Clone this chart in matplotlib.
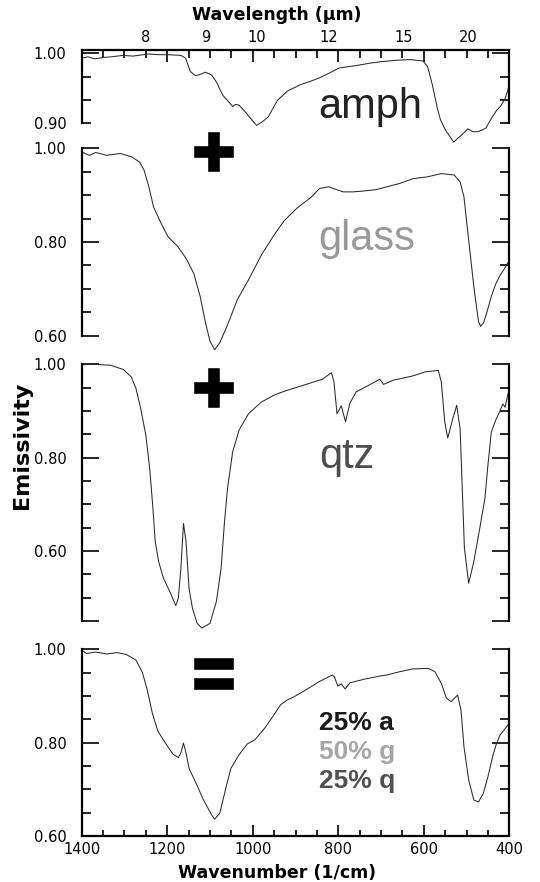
import matplotlib
matplotlib.use("Agg")
import matplotlib.pyplot as plt
from matplotlib.ticker import MultipleLocator, FixedLocator
import matplotlib.patheffects as pe

# ---------------- data ----------------
amph_wn = [1400, 1385, 1370, 1350, 1330, 1304, 1280, 1244, 1220, 1198, 1168, 1157, 1146, 1134,
           1122, 1111, 1096, 1084, 1070, 1058, 1047, 1040, 1032, 1017, 1005, 991, 978, 964, 942,
           919, 889, 865, 844, 820, 798, 775, 753, 725, 700, 665, 632, 602, 591, 580, 568, 561,
           549, 540, 530, 520, 512, 497, 485, 474, 465, 455, 440, 430, 420, 410, 402]
amph_em = [0.993, 0.995, 0.992, 0.994, 0.995, 0.997, 0.996, 0.999, 0.998, 0.998, 0.997, 0.993,
           0.974, 0.968, 0.970, 0.973, 0.969, 0.958, 0.940, 0.932, 0.924, 0.927, 0.926, 0.916,
           0.907, 0.897, 0.902, 0.909, 0.933, 0.946, 0.955, 0.960, 0.965, 0.972, 0.979, 0.981,
           0.983, 0.986, 0.988, 0.990, 0.991, 0.989, 0.981, 0.955, 0.921, 0.905, 0.890, 0.882,
           0.873, 0.879, 0.883, 0.892, 0.888, 0.888, 0.890, 0.893, 0.909, 0.918, 0.925, 0.935,
           0.950]

glass_wn = [1400, 1382, 1367, 1341, 1310, 1284, 1265, 1254, 1243, 1232, 1216, 1198, 1175, 1156,
            1138, 1123, 1111, 1100, 1089, 1077, 1059, 1036, 1010, 980, 950, 927, 897, 863, 844,
            822, 805, 788, 765, 739, 710, 686, 656, 626, 592, 559, 529, 515, 506, 495, 483, 472,
            467, 460, 453, 442, 432, 422, 410, 402]
glass_em = [0.992, 0.985, 0.991, 0.985, 0.989, 0.982, 0.971, 0.953, 0.918, 0.875, 0.843, 0.811,
            0.790, 0.765, 0.733, 0.684, 0.630, 0.588, 0.570, 0.585, 0.623, 0.677, 0.719, 0.772,
            0.815, 0.845, 0.872, 0.896, 0.914, 0.918, 0.912, 0.907, 0.907, 0.909, 0.912, 0.918,
            0.925, 0.935, 0.939, 0.946, 0.943, 0.928, 0.896, 0.804, 0.705, 0.630, 0.620, 0.628,
            0.648, 0.684, 0.710, 0.728, 0.745, 0.758]

qtz_wn = [1400, 1371, 1333, 1303, 1284, 1273, 1262, 1250, 1241, 1234, 1228, 1220, 1209, 1194,
          1180, 1174, 1168, 1162, 1156, 1149, 1141, 1130, 1119, 1100, 1085, 1074, 1066, 1059,
          1047, 1032, 1010, 980, 950, 927, 882, 837, 816, 810, 803, 793, 783, 773, 758, 731,
          703, 694, 671, 626, 596, 566, 559, 551, 544, 532, 523, 515, 510, 505, 495, 483, 469,
          457, 450, 442, 432, 422, 415, 410, 403]
qtz_em = [0.999, 1.000, 0.998, 0.989, 0.973, 0.948, 0.905, 0.848, 0.777, 0.698, 0.620, 0.577,
          0.542, 0.513, 0.483, 0.499, 0.563, 0.659, 0.620, 0.520, 0.477, 0.445, 0.435, 0.445,
          0.492, 0.563, 0.663, 0.734, 0.812, 0.859, 0.894, 0.919, 0.934, 0.942, 0.955, 0.968,
          0.982, 0.962, 0.894, 0.911, 0.877, 0.916, 0.941, 0.954, 0.968, 0.957, 0.966, 0.975,
          0.984, 0.987, 0.962, 0.877, 0.842, 0.884, 0.912, 0.862, 0.734, 0.606, 0.531, 0.577,
          0.649, 0.713, 0.784, 0.855, 0.880, 0.900, 0.915, 0.908, 0.937]

mix_wn = [1400, 1389, 1367, 1341, 1318, 1296, 1273, 1258, 1247, 1235, 1222, 1205, 1186, 1174,
          1168, 1162, 1156, 1149, 1134, 1115, 1096, 1089, 1077, 1062, 1051, 1032, 1013, 995,
          972, 953, 935, 920, 904, 874, 844, 814, 809, 801, 793, 784, 773, 739, 701, 686, 656,
          626, 589, 574, 559, 547, 536, 521, 513, 506, 495, 483, 472, 461, 450, 438, 431, 422,
          403]
mix_em = [0.998, 0.991, 0.994, 0.990, 0.993, 0.989, 0.977, 0.950, 0.914, 0.864, 0.825, 0.800,
          0.775, 0.768, 0.778, 0.799, 0.778, 0.745, 0.716, 0.677, 0.645, 0.636, 0.649, 0.706,
          0.745, 0.774, 0.797, 0.806, 0.831, 0.856, 0.881, 0.891, 0.898, 0.914, 0.931, 0.945,
          0.941, 0.921, 0.926, 0.915, 0.928, 0.936, 0.943, 0.945, 0.952, 0.958, 0.959, 0.952,
          0.927, 0.895, 0.888, 0.902, 0.870, 0.791, 0.720, 0.677, 0.673, 0.691, 0.727, 0.774,
          0.795, 0.816, 0.838]

panel_names = ["amph", "glass", "qtz"]
panel_colors = ["#222222", "#999999", "#4d4d4d"]
mix_lines = ["25% a", "50% g", "25% q"]
mix_colors = ["#1a1a1a", "#a6a6a6", "#505050"]

bottom_ticks = [1400, 1200, 1000, 800, 600, 400]
top_labels = ["8", "9", "10", "12", "15", "20"]
top_label_wn = [1250, 1110, 991, 823, 648, 496]

# ---------------- layout ----------------
FW, FH = 540, 882
fig = plt.figure(figsize=(FW / 100, FH / 100), dpi=100)
X0, X1 = 81.7, 509.3


def px_axes(top, bot):
    return fig.add_axes([X0 / FW, 1 - bot / FH, (X1 - X0) / FW, (bot - top) / FH])


LINE = dict(color="#2a2a2a", lw=0.75, clip_on=False)


def style_y(ax, major, labels, minor, minor_labels=None):
    ax.set_xlim(1400, 400)
    ax.set_yticks(major, labels)
    ax.yaxis.set_minor_locator(FixedLocator(minor))
    if minor_labels is not None:
        ax.set_yticks(minor, minor_labels, minor=True)
    ax.tick_params(axis="y", which="both", direction="in", left=True, right=True,
                   width=1.2, pad=11, labelsize=10.5)
    ax.tick_params(axis="y", which="major", length=12.5)
    ax.tick_params(axis="y", which="minor", length=6.5)
    for lab in ax.get_yticklabels(which="both"):
        lab.set_family("DejaVu Sans")
    for s in ("left", "right", "top", "bottom"):
        ax.spines[s].set_linewidth(1.6)


# Panel 1: amph
ax1 = px_axes(50, 123.3)
ax1.plot(amph_wn, amph_em, **LINE)
ax1.set_ylim(0.90, 1.0047)
axt = ax1.twiny()
axt.set_xlim(1400, 400)
axt.set_xticks(top_label_wn, top_labels)
axt.tick_params(axis="x", length=0, pad=3.5, labelsize=10.5)
for s in axt.spines.values():
    s.set_visible(False)
style_y(ax1, [1.00], ["1.00"], [0.90, 0.90 + 0.1 / 3, 0.90 + 0.2 / 3], ["0.90", "", ""])
ax1.spines["bottom"].set_visible(False)
ax1.xaxis.set_ticks_position("top")
ax1.xaxis.set_major_locator(MultipleLocator(200))
ax1.xaxis.set_minor_locator(MultipleLocator(50))
ax1.tick_params(axis="x", which="both", direction="in", top=True, bottom=False,
                labeltop=False, labelbottom=False, width=1.2)
ax1.tick_params(axis="x", which="major", length=8.6)
ax1.tick_params(axis="x", which="minor", length=5.8)

# Panel 2: glass
ax2 = px_axes(148.3, 335.7)
ax2.plot(glass_wn, glass_em, **LINE)
ax2.set_ylim(0.60, 1.00)
style_y(ax2, [0.60, 0.80, 1.00], ["0.60", "0.80", "1.00"],
        [0.65, 0.70, 0.75, 0.85, 0.90, 0.95])
for s in ("top", "bottom"):
    ax2.spines[s].set_visible(False)
ax2.tick_params(axis="x", which="both", bottom=False, labelbottom=False)

# Panel 3: qtz
ax3 = px_axes(364.3, 621)
ax3.plot(qtz_wn, qtz_em, **LINE)
ax3.set_ylim(0.45, 1.00)
style_y(ax3, [0.45, 0.60, 0.80, 1.00], ["", "0.60", "0.80", "1.00"],
        [0.50, 0.55, 0.65, 0.70, 0.75, 0.85, 0.90, 0.95])
for s in ("top", "bottom"):
    ax3.spines[s].set_visible(False)
ax3.tick_params(axis="x", which="both", bottom=False, labelbottom=False)

# Panel 4: mixture
ax4 = px_axes(649.3, 836)
ax4.plot(mix_wn, mix_em, **LINE)
ax4.set_ylim(0.60, 1.00)
style_y(ax4, [0.60, 0.80, 1.00], ["0.60", "0.80", "1.00"],
        [0.65, 0.70, 0.75, 0.85, 0.90, 0.95])
ax4.spines["top"].set_visible(False)
ax4.set_xticks(bottom_ticks, [str(t) for t in bottom_ticks])
ax4.xaxis.set_minor_locator(MultipleLocator(50))
ax4.tick_params(axis="x", which="both", direction="in", width=1.2, pad=4, labelsize=10.5)
ax4.tick_params(axis="x", which="major", length=8.0)
ax4.tick_params(axis="x", which="minor", length=4.3)

# ---------------- texts ----------------
def ftext(x, y, s, **kw):
    return fig.text(x / FW, 1 - y / FH, s, **kw)


ftext(277, 15, "Wavelength (\u03bcm)", ha="center", va="center", fontsize=12.5,
      fontweight="bold", family="DejaVu Sans")
ftext(277, 873, "Wavenumber (1/cm)", ha="center", va="center", fontsize=12.5,
      fontweight="bold", family="DejaVu Sans")
ftext(22, 445, "Emissivity", ha="center", va="center", rotation=90, fontsize=16,
      fontweight="bold", family="DejaVu Sans")

for name, col, (x, y) in zip(panel_names, panel_colors, [(318, 118.3), (318, 250), (319, 468)]):
    ftext(x, y, name, ha="left", va="baseline", fontsize=30, color=col,
          family="Liberation Sans")

for s, col, y in zip(mix_lines, mix_colors, [730, 759.3, 788]):
    ftext(319, y, s, ha="left", va="baseline", fontsize=19, color=col,
          fontweight="bold", family="Liberation Sans")

SIGN = dict(ha="center", va="center", fontsize=52, fontweight="bold", color="black",
            family="Liberation Sans",
            path_effects=[pe.withStroke(linewidth=2.6, foreground="black",
                                        joinstyle="miter", capstyle="projecting")])
ftext(214, 157, "+", **SIGN)
ftext(214, 393, "+", **SIGN)
ftext(214, 679, "=", **SIGN)

fig.savefig("out.png", dpi=100)
